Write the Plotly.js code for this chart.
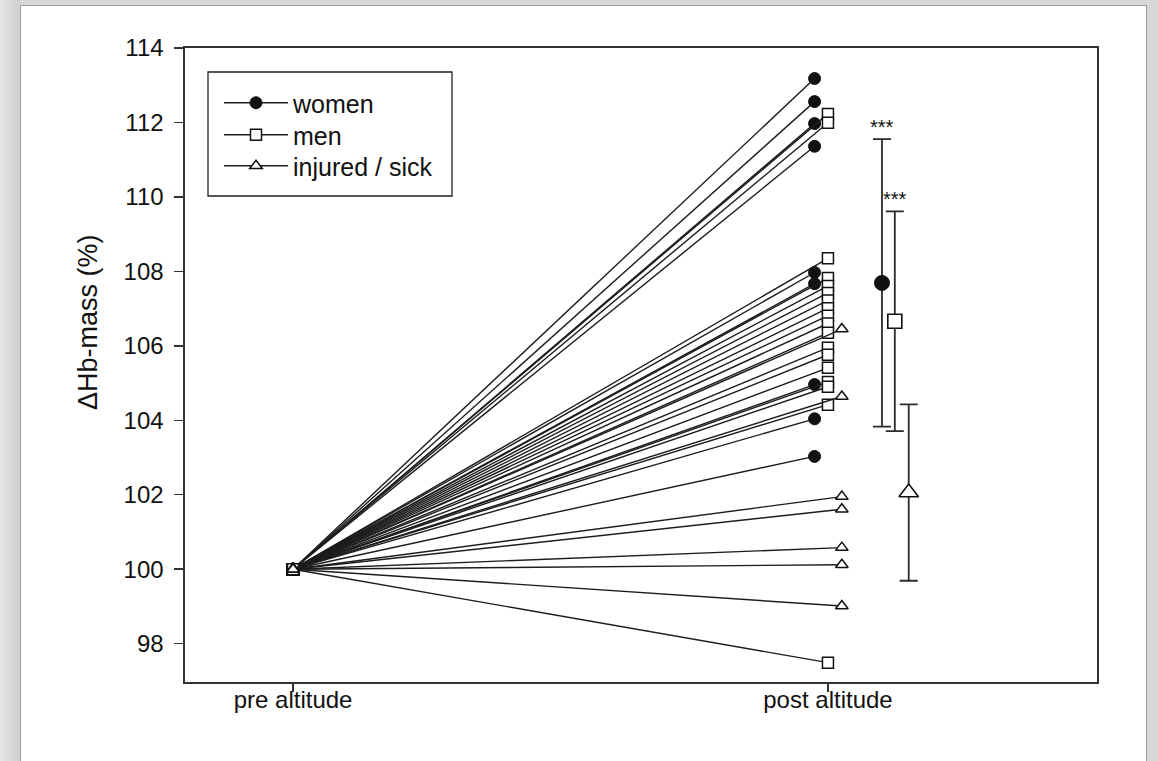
<!DOCTYPE html>
<html>
<head>
<meta charset="utf-8">
<script src="https://cdn.plot.ly/plotly-3.0.1.min.js"></script>
<style>
  html, body { margin: 0; padding: 0; width: 1158px; height: 761px; overflow: hidden; }
  body { background: linear-gradient(to right, #e6e6e6 0px, #cfcfcf 19px, #d8d8d8 20px); }
  #sheet {
    position: absolute; left: 20px; top: 5px; width: 1125px; height: 780px;
    background: #ffffff; border: 1px solid #9c9c9c; border-bottom: none;
  }
  #chart { position: absolute; left: 0; top: 0; width: 1158px; height: 761px; }
</style>
</head>
<body>
<div id="sheet"></div>
<div id="chart"></div>
<script>
// Haemoglobin mass before and after the altitude camp, relative to baseline (%)
const categories = ['pre altitude', 'post altitude'];
const preValue = 100;

const womenPost = [113.18, 112.56, 111.97, 111.36, 107.97, 107.67, 104.96, 104.04, 103.03];
const menPost = [112.23, 111.99, 108.35, 107.82, 107.61, 107.42, 107.22, 107.01, 106.81,
                 106.60, 106.35, 105.95, 105.76, 105.41, 105.03, 104.90, 104.42, 97.49];
const injuredPost = [106.45, 104.64, 101.95, 101.61, 100.58, 100.12, 99.01];

const groupNames = ['women', 'men', 'injured / sick'];
const groupMeans = [107.69, 106.66, 102.06];
const groupSD = [3.86, 2.95, 2.37];
const significance = ['***', '***', ''];

const yTicks = [98, 100, 102, 104, 106, 108, 110, 112, 114];

// ---- styling -------------------------------------------------------------
const FONT = 'Liberation Sans, Arial, Helvetica, sans-serif';
const INK = '#111111';
const AXIS = '#333333';

// small horizontal offsets so the three groups don't sit on top of each other
const postOffset = [-0.025, 0.0, 0.026];
const meanOffset = [0.101, 0.125, 0.151];

const markerStyles = [
  { symbol: 'circle', size: 12, color: INK, line: { color: INK, width: 1 } },
  { symbol: 'square', size: 11, color: '#ffffff', line: { color: INK, width: 1.5 } },
  { symbol: 'triangle-up', size: 11, color: '#ffffff', line: { color: INK, width: 1.5 } }
];
const meanStyles = [
  { symbol: 'circle', size: 15, color: INK, line: { color: INK, width: 1 } },
  { symbol: 'square', size: 14, color: '#ffffff', line: { color: INK, width: 1.6 } },
  { symbol: 'triangle-up', size: 17, color: '#ffffff', line: { color: INK, width: 1.6 } }
];
const legendIds = ['legend', 'legend2', 'legend3'];

const groups = [womenPost, menPost, injuredPost];
const traces = [];

// one trace per group: every athlete is a segment pre -> post
groups.forEach((vals, g) => {
  const xs = [], ys = [];
  vals.forEach(v => {
    xs.push(0, 1 + postOffset[g], null);
    ys.push(preValue, v, null);
  });
  traces.push({
    type: 'scatter', mode: 'lines+markers', name: groupNames[g],
    legend: legendIds[g],
    x: xs, y: ys, connectgaps: false,
    line: { color: '#1c1c1c', width: 1.4 },
    marker: markerStyles[g],
    hoverinfo: 'skip'
  });
});

// group means with SD error bars
groups.forEach((vals, g) => {
  traces.push({
    type: 'scatter', mode: 'markers', showlegend: false,
    x: [1 + meanOffset[g]], y: [groupMeans[g]],
    marker: meanStyles[g],
    error_y: { type: 'data', array: [groupSD[g]], visible: true,
               color: '#2b2b2b', thickness: 1.8, width: 9 },
    hoverinfo: 'skip'
  });
});

// plot-area geometry in pixels, used to place the free text and the key
const M = { l: 185, r: 61, t: 48, b: 79 };
const W = 1158 - M.l - M.r, H = 761 - M.t - M.b;
const px = x => (x - M.l) / W;
const py = y => 1 - (y - M.t) / H;

const annotations = [];
significance.forEach((s, g) => {
  if (!s) return;
  annotations.push({
    x: 1 + meanOffset[g], y: groupMeans[g] + groupSD[g], xref: 'x', yref: 'y',
    text: s, showarrow: false, xanchor: 'center', yanchor: 'bottom', yshift: -1,
    font: { family: FONT, size: 20, color: INK }
  });
});
annotations.push({
  xref: 'paper', yref: 'paper', x: px(88), y: py(322),
  text: '\u0394Hb-mass (%)', textangle: -90, showarrow: false,
  xanchor: 'center', yanchor: 'middle',
  font: { family: FONT, size: 27, color: INK }
});

// the key: one frame, one row per group
const keyRowsY = [103, 135, 166];
const keyLegend = i => ({
  x: px(219), y: py(keyRowsY[i]), xanchor: 'left', yanchor: 'middle',
  bgcolor: 'rgba(0,0,0,0)', borderwidth: 0,
  font: { family: FONT, size: 25, color: INK },
  itemwidth: 64
});

const layout = {
  width: 1158, height: 761,
  margin: M,
  paper_bgcolor: 'rgba(0,0,0,0)',
  plot_bgcolor: 'rgba(0,0,0,0)',
  font: { family: FONT, color: INK },
  showlegend: true,
  legend: keyLegend(0),
  legend2: keyLegend(1),
  legend3: keyLegend(2),
  shapes: [{
    type: 'rect', xref: 'paper', yref: 'paper', layer: 'below',
    x0: px(208), x1: px(452), y0: py(196), y1: py(72),
    line: { color: '#222222', width: 1.3 }, fillcolor: '#ffffff'
  }],
  xaxis: {
    range: [-0.202, 1.503], tickvals: [0, 1], ticktext: categories,
    ticks: 'outside', ticklen: 8, tickwidth: 1.5, tickcolor: AXIS,
    showline: true, mirror: true, linecolor: AXIS, linewidth: 1.6,
    showgrid: false, zeroline: false,
    ticklabelstandoff: -12,
    tickfont: { family: FONT, size: 24, color: INK }
  },
  yaxis: {
    range: [96.97, 114], tickvals: yTicks,
    ticks: 'outside', ticklen: 9, tickwidth: 1.5, tickcolor: AXIS,
    showline: true, mirror: true, linecolor: AXIS, linewidth: 1.6,
    showgrid: false, zeroline: false,
    ticklabelstandoff: 6,
    tickfont: { family: FONT, size: 24, color: INK }
  },
  annotations: annotations
};

Plotly.newPlot('chart', traces, layout, { staticPlot: true, displayModeBar: false });
</script>
</body>
</html>
